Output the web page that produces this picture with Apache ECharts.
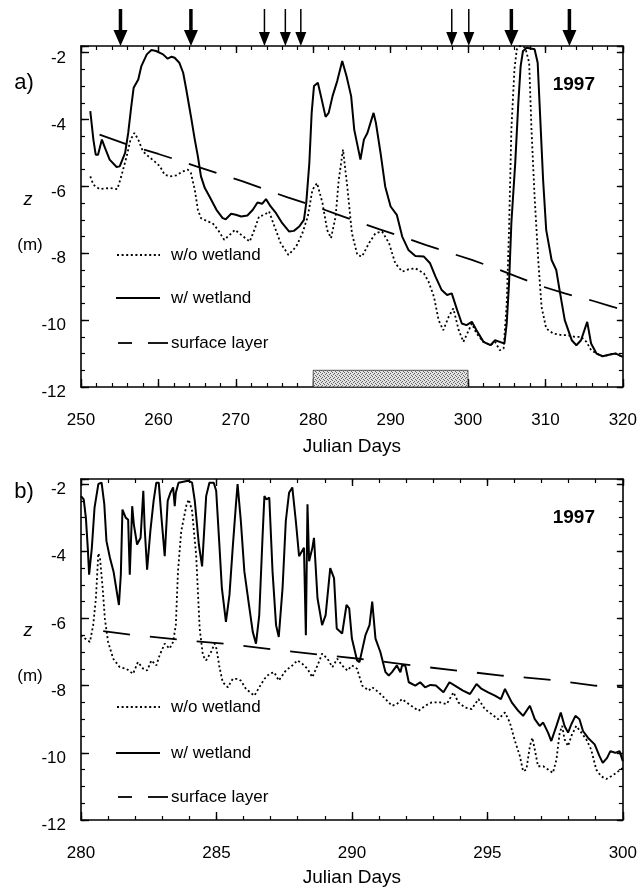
<!DOCTYPE html>
<html>
<head>
<meta charset="utf-8">
<script src="https://cdn.jsdelivr.net/npm/echarts@6/dist/echarts.min.js"></script>
<style>
html,body{margin:0;padding:0;background:#fff;}
#chart{width:640px;height:890px;}
</style>
</head>
<body>
<div id="chart"></div>
<script>
// ---------------- DATA ----------------
// Panel a) Julian days 250-320
const aWithWetland = [[251.2,-3.75],[251.6,-4.6],[251.9,-5.05],[252.2,-5.05],[252.7,-4.6],[253.1,-4.85],[253.7,-5.2],[254.6,-5.42],[255.0,-5.4],[255.7,-5.0],[256.1,-4.4],[256.5,-3.6],[256.8,-3.05],[257.4,-2.8],[257.8,-2.4],[258.5,-2.05],[259.1,-1.92],[259.7,-1.95],[260.6,-2.05],[261.2,-2.18],[261.7,-2.12],[262.1,-2.15],[262.7,-2.3],[263.2,-2.6],[263.6,-3.1],[264.2,-3.9],[264.7,-4.6],[265.1,-5.1],[265.5,-5.7],[266.0,-6.05],[266.6,-6.3],[267.5,-6.7],[268.3,-6.95],[268.7,-6.98],[269.4,-6.82],[270.0,-6.85],[270.7,-6.9],[271.5,-6.87],[272.2,-6.7],[272.8,-6.48],[273.4,-6.52],[273.9,-6.38],[274.5,-6.6],[275.2,-6.8],[276.0,-7.1],[276.9,-7.35],[277.5,-7.33],[278.2,-7.2],[278.8,-7.0],[279.1,-6.5],[279.5,-5.3],[279.8,-3.8],[280.1,-3.0],[280.6,-2.9],[281.0,-3.3],[281.6,-3.92],[282.0,-3.8],[282.5,-3.3],[283.1,-2.85],[283.75,-2.25],[284.3,-2.7],[284.9,-3.3],[285.3,-4.3],[285.7,-4.75],[286.1,-5.2],[286.55,-4.6],[287.0,-4.4],[287.4,-4.1],[287.8,-3.8],[288.1,-4.1],[288.7,-5.0],[289.3,-6.0],[290.0,-6.6],[290.8,-6.85],[291.5,-7.5],[292.3,-7.9],[293.2,-8.08],[294.3,-8.1],[295.1,-8.3],[295.8,-8.7],[296.6,-9.1],[297.3,-9.25],[297.9,-9.2],[298.6,-9.7],[299.2,-10.1],[299.8,-10.15],[300.5,-10.05],[301.1,-10.3],[302.0,-10.65],[302.9,-10.75],[303.5,-10.6],[304.1,-10.65],[304.7,-10.7],[305.0,-10.1],[305.3,-8.9],[305.6,-7.1],[306.1,-5.3],[306.5,-3.5],[306.8,-2.4],[307.1,-1.95],[307.6,-1.85],[308.6,-1.9],[309.0,-2.3],[309.3,-3.8],[309.7,-5.8],[310.1,-7.3],[310.8,-8.2],[311.4,-8.5],[311.9,-9.2],[312.5,-10.0],[313.4,-10.6],[314.0,-10.75],[314.6,-10.6],[315.4,-10.05],[315.9,-10.7],[316.6,-11.0],[317.4,-11.08],[318.5,-11.02],[319.1,-11.0],[320,-11.1]];

const aWithoutWetland = [[251.2,-5.7],[251.6,-5.95],[252.4,-6.08],[253.7,-6.05],[254.7,-6.08],[255.2,-5.7],[255.9,-5.1],[256.4,-4.6],[256.9,-4.4],[257.4,-4.6],[258.0,-4.95],[258.7,-5.1],[259.5,-5.25],[260.2,-5.4],[260.8,-5.65],[261.5,-5.7],[262.3,-5.67],[263.2,-5.55],[263.8,-5.5],[264.2,-5.6],[264.7,-6.1],[265.1,-6.7],[265.5,-6.95],[266.4,-7.05],[267.0,-7.1],[267.7,-7.3],[268.5,-7.6],[269.2,-7.45],[269.9,-7.3],[270.7,-7.45],[271.8,-7.65],[272.4,-7.3],[273.0,-6.9],[273.7,-6.85],[274.3,-6.75],[275.0,-7.2],[275.8,-7.7],[276.8,-8.05],[277.8,-7.8],[278.6,-7.4],[279.3,-6.9],[279.9,-6.1],[280.5,-5.9],[281.2,-6.5],[281.8,-7.3],[282.3,-7.55],[282.9,-6.9],[283.3,-5.8],[283.85,-4.9],[284.4,-6.0],[285.0,-7.4],[285.7,-8.05],[286.3,-8.1],[287.2,-7.7],[288.05,-7.4],[288.9,-7.35],[289.8,-7.7],[290.6,-8.3],[291.5,-8.55],[292.3,-8.48],[293.2,-8.45],[294.3,-8.6],[294.9,-8.85],[295.6,-9.3],[296.2,-10.0],[296.8,-10.3],[297.5,-9.9],[298.1,-9.65],[298.8,-10.3],[299.4,-10.65],[300.1,-10.3],[300.5,-10.1],[301.1,-10.4],[302.0,-10.65],[302.9,-10.75],[303.5,-10.65],[304.1,-10.9],[304.6,-10.85],[305.0,-9.5],[305.3,-7.3],[305.6,-4.3],[306.0,-2.5],[306.3,-1.9],[306.7,-1.8],[307.4,-1.85],[307.9,-2.3],[308.2,-4.3],[308.6,-6.3],[309.1,-8.3],[309.5,-9.6],[310.1,-10.25],[311.0,-10.4],[312.1,-10.45],[312.9,-10.45],[313.8,-10.5],[314.6,-10.5],[315.3,-10.65],[315.9,-10.9],[316.6,-11.0],[317.4,-11.08],[318.5,-11.02],[319.1,-11.0],[320,-11.1]];

const aSurfaceLayer = [[252.4,-4.45],[256.0,-4.75],[260.0,-5.03],[262.3,-5.2],[264.9,-5.4],[268.5,-5.67],[270.9,-5.85],[274.5,-6.15],[276.7,-6.33],[280.3,-6.6],[283.0,-6.83],[286.1,-7.08],[288.5,-7.28],[292.1,-7.55],[294.5,-7.75],[298.1,-8.02],[300.5,-8.2],[303.9,-8.48],[306.3,-8.7],[309.7,-9.0],[312.5,-9.2],[316.1,-9.42],[318.7,-9.6],[320,-9.7]];

const thickArrowDays = [255.1, 264.2, 305.6, 313.1];
const thinArrowDays = [273.7, 276.4, 278.4, 297.9, 300.1];
const shadedDays = [280, 300];
const shadedDepth = [-12, -11.5];

// Panel b) Julian days 280-300
const bWithWetland = [[280.0,-2.36],[280.1,-2.46],[280.18,-3.0],[280.25,-3.9],[280.3,-4.7],[280.4,-3.9],[280.5,-2.7],[280.64,-2.0],[280.76,-1.96],[280.86,-2.6],[280.94,-3.7],[281.07,-4.2],[281.2,-4.6],[281.4,-5.6],[281.47,-4.7],[281.53,-2.76],[281.65,-3.0],[281.74,-3.06],[281.8,-4.7],[281.89,-2.66],[281.95,-3.2],[282.07,-3.8],[282.2,-3.6],[282.3,-2.2],[282.35,-3.3],[282.44,-4.55],[282.56,-3.4],[282.68,-2.5],[282.78,-1.96],[282.87,-1.96],[282.97,-3.0],[283.09,-4.15],[283.2,-2.5],[283.3,-2.26],[283.4,-2.1],[283.46,-2.66],[283.5,-2.26],[283.6,-1.96],[283.95,-1.9],[284.1,-1.96],[284.2,-2.5],[284.35,-3.8],[284.47,-4.45],[284.56,-3.2],[284.62,-2.36],[284.74,-1.96],[284.9,-1.96],[284.99,-2.2],[285.1,-3.7],[285.2,-5.1],[285.35,-6.1],[285.48,-5.3],[285.6,-3.9],[285.72,-2.6],[285.78,-2.0],[285.9,-3.1],[286.03,-4.6],[286.2,-5.6],[286.34,-6.4],[286.46,-6.75],[286.58,-5.9],[286.7,-3.6],[286.77,-2.36],[286.85,-2.46],[286.95,-2.4],[287.07,-4.6],[287.2,-6.2],[287.3,-6.55],[287.44,-5.1],[287.56,-3.1],[287.68,-2.26],[287.8,-2.1],[287.93,-3.1],[288.05,-4.15],[288.23,-3.9],[288.3,-6.5],[288.36,-2.6],[288.42,-4.3],[288.54,-3.9],[288.6,-3.6],[288.73,-5.4],[288.9,-6.2],[289.03,-5.9],[289.2,-4.5],[289.34,-4.8],[289.44,-6.3],[289.64,-6.45],[289.8,-5.6],[289.9,-5.7],[290.0,-6.6],[290.19,-7.25],[290.28,-7.3],[290.5,-6.5],[290.65,-6.2],[290.75,-5.5],[290.87,-6.6],[291.05,-7.0],[291.24,-7.6],[291.36,-7.7],[291.48,-7.6],[291.66,-7.4],[291.79,-7.6],[291.85,-7.4],[291.97,-7.4],[292.1,-7.9],[292.34,-8.0],[292.52,-7.9],[292.7,-8.05],[292.9,-7.98],[293.1,-8.0],[293.38,-8.2],[293.6,-7.9],[293.8,-8.0],[294.1,-8.15],[294.36,-8.25],[294.6,-7.95],[294.79,-8.1],[295.03,-8.2],[295.28,-8.3],[295.5,-8.4],[295.65,-8.1],[295.9,-8.5],[296.14,-8.75],[296.32,-8.9],[296.57,-8.6],[296.75,-9.0],[296.93,-9.2],[297.06,-9.1],[297.24,-9.4],[297.36,-9.65],[297.55,-9.2],[297.71,-8.8],[297.85,-9.2],[297.98,-9.4],[298.1,-9.15],[298.25,-8.9],[298.4,-9.0],[298.53,-9.35],[298.71,-9.55],[298.96,-9.75],[299.14,-10.1],[299.26,-10.3],[299.42,-10.15],[299.54,-9.95],[299.72,-10.0],[299.88,-9.95],[300,-10.25]];

const bWithoutWetland = [[280.0,-6.5],[280.15,-6.6],[280.33,-6.7],[280.45,-6.2],[280.55,-5.4],[280.64,-4.06],[280.7,-4.2],[280.8,-5.1],[280.88,-6.0],[281.0,-6.7],[281.19,-7.2],[281.43,-7.45],[281.68,-7.5],[281.92,-7.65],[282.1,-7.3],[282.3,-7.5],[282.44,-7.55],[282.6,-7.25],[282.78,-7.4],[282.9,-7.1],[283.09,-6.75],[283.27,-6.9],[283.4,-6.7],[283.5,-6.2],[283.58,-4.6],[283.7,-3.4],[283.9,-2.6],[283.98,-2.46],[284.1,-2.8],[284.25,-4.1],[284.38,-6.3],[284.5,-7.1],[284.62,-7.25],[284.8,-7.0],[284.93,-6.75],[285.0,-6.9],[285.1,-7.4],[285.23,-7.9],[285.42,-8.05],[285.6,-7.8],[285.78,-7.8],[285.9,-7.85],[286.09,-8.1],[286.4,-8.3],[286.58,-8.05],[286.77,-7.8],[286.95,-7.65],[287.13,-7.6],[287.3,-7.85],[287.56,-7.55],[287.8,-7.4],[287.99,-7.25],[288.17,-7.35],[288.36,-7.5],[288.54,-7.75],[288.73,-7.4],[288.9,-7.05],[289.1,-7.2],[289.28,-7.45],[289.46,-7.2],[289.64,-7.4],[289.83,-7.55],[290.0,-7.4],[290.19,-7.5],[290.38,-8.0],[290.62,-8.15],[290.75,-8.05],[290.99,-8.2],[291.24,-8.4],[291.48,-8.6],[291.66,-8.55],[291.85,-8.4],[292.1,-8.55],[292.46,-8.75],[292.7,-8.6],[292.95,-8.5],[293.26,-8.5],[293.5,-8.55],[293.75,-8.2],[293.93,-8.5],[294.18,-8.65],[294.42,-8.7],[294.67,-8.4],[294.91,-8.7],[295.16,-8.85],[295.4,-9.0],[295.65,-8.8],[295.83,-9.1],[296.0,-9.6],[296.2,-10.1],[296.32,-10.55],[296.44,-10.5],[296.57,-9.8],[296.66,-9.55],[296.75,-9.9],[296.87,-10.4],[297.06,-10.4],[297.24,-10.5],[297.42,-10.6],[297.55,-10.2],[297.67,-9.4],[297.76,-9.2],[297.85,-9.6],[297.98,-9.8],[298.1,-9.5],[298.28,-9.2],[298.47,-9.4],[298.65,-9.6],[298.83,-9.9],[299.02,-10.5],[299.2,-10.7],[299.39,-10.78],[299.57,-10.7],[299.75,-10.6],[300,-10.45]];

const bSurfaceLayer = [[280.82,-6.38],[282.0,-6.5],[283.58,-6.63],[285.36,-6.76],[287.07,-6.92],[288.73,-7.07],[290.26,-7.2],[291.5,-7.32],[292.77,-7.45],[294.2,-7.58],[295.52,-7.7],[297.24,-7.82],[298.96,-8.0],[300,-8.05]];

const legendLabels = ['w/o wetland', 'w/ wetland', 'surface layer'];
const yearLabel = '1997';

// ---------------- STYLE / LAYOUT ----------------
const FONT = '"Liberation Sans", Arial, Helvetica, sans-serif';
const BLACK = '#000';
const A = {xMin:250, xMax:320, xMajor:10, xMinor:2, yMin:-12, yMax:-1.8};
const B = {xMin:280, xMax:300, xMajor:5, xMinor:1, yMin:-12, yMax:-1.85};
const grids = [
  {left:81, top:46, width:544, height:341},
  {left:81, top:479, width:544, height:341}
];

function xAxes(g, P, nameGap) {
  const base = {gridIndex:g, type:'value', min:P.xMin, max:P.xMax, splitLine:{show:false}};
  const line = {show:true, onZero:false, lineStyle:{color:BLACK, width:1.6}};
  return [
    Object.assign({}, base, {position:'bottom', interval:P.xMajor, axisLine:line,
      axisTick:{show:true, inside:true, length:8, lineStyle:{color:BLACK, width:1.4}},
      axisLabel:{show:true, margin:25, color:BLACK, fontSize:17, fontFamily:FONT},
      name:'Julian Days', nameLocation:'middle', nameGap:nameGap,
      nameTextStyle:{color:BLACK, fontSize:19, fontFamily:FONT}}),
    Object.assign({}, base, {position:'bottom', interval:P.xMinor, axisLine:{show:false, onZero:false},
      axisTick:{show:true, inside:true, length:4, lineStyle:{color:BLACK, width:1.2}}, axisLabel:{show:false}}),
    Object.assign({}, base, {position:'top', interval:P.xMajor, axisLine:line,
      axisTick:{show:true, inside:true, length:7, lineStyle:{color:BLACK, width:1.4}}, axisLabel:{show:false}}),
    Object.assign({}, base, {position:'top', interval:P.xMinor, axisLine:{show:false, onZero:false},
      axisTick:{show:true, inside:true, length:4, lineStyle:{color:BLACK, width:1.2}}, axisLabel:{show:false}})
  ];
}
function yAxes(g, P) {
  const base = {gridIndex:g, type:'value', min:P.yMin, max:P.yMax, splitLine:{show:false}};
  const line = {show:true, onZero:false, lineStyle:{color:BLACK, width:1.6}};
  return [
    Object.assign({}, base, {position:'left', interval:2, axisLine:line,
      axisTick:{show:true, inside:true, length:8, lineStyle:{color:BLACK, width:1.4}},
      axisLabel:{show:true, margin:15, color:BLACK, fontSize:17, fontFamily:FONT,
        verticalAlign:'top', lineHeight:11,
        formatter: v => (Math.abs(v % 2) < 1e-9 ? String(v) : '')}}),
    Object.assign({}, base, {position:'left', interval:0.5, axisLine:{show:false, onZero:false},
      axisTick:{show:true, inside:true, length:4, lineStyle:{color:BLACK, width:1.2}}, axisLabel:{show:false}}),
    Object.assign({}, base, {position:'right', interval:2, axisLine:line,
      axisTick:{show:true, inside:true, length:6, lineStyle:{color:BLACK, width:1.4}}, axisLabel:{show:false}}),
    Object.assign({}, base, {position:'right', interval:0.5, axisLine:{show:false, onZero:false},
      axisTick:{show:true, inside:true, length:4, lineStyle:{color:BLACK, width:1.2}}, axisLabel:{show:false}})
  ];
}

// stipple pattern for the shaded bar
const pat = document.createElement('canvas');
pat.width = 4; pat.height = 4;
(function(){
  const c = pat.getContext('2d');
  c.fillStyle = '#e2e2e2'; c.fillRect(0,0,4,4);
  c.fillStyle = '#666';
  [[0,0],[2,1],[1,2],[3,3]].forEach(p => c.fillRect(p[0],p[1],1,1));
})();

const solidStyle = {color:BLACK, width:2};
const dottedStyle = {color:BLACK, width:1.8, type:[2,2.6]};

function lineSeries(name, data, xi, yi, style, extra) {
  return Object.assign({
    name, type:'line', data, xAxisIndex:xi, yAxisIndex:yi,
    symbol:'none', showSymbol:false, smooth:false, lineStyle:style, silent:true, z:3
  }, extra || {});
}

const arrowData = thickArrowDays.map(d => [d, A.yMax, 1]).concat(thinArrowDays.map(d => [d, A.yMax, 0]));

const series = [
  lineSeries('w/ wetland a', aWithWetland, 0, 0, solidStyle, {
    markArea:{silent:true, itemStyle:{color:{image:pat, repeat:'repeat'}, borderColor:'#333', borderWidth:0.8},
      data:[[{coord:[shadedDays[0], shadedDepth[0]]},{coord:[shadedDays[1], shadedDepth[1]]}]]}
  }),
  lineSeries('w/o wetland a', aWithoutWetland, 0, 0, dottedStyle),
  lineSeries('surface layer a', aSurfaceLayer, 0, 0, {color:BLACK, width:1.8, type:[29,18]}),
  {
    type:'custom', xAxisIndex:0, yAxisIndex:0, clip:false, silent:true, z:5,
    data: arrowData,
    renderItem: function(params, api) {
      const p = api.coord([api.value(0), api.value(1)]);
      const thick = api.value(2) === 1;
      const hw = thick ? 7 : 5.5, hh = thick ? 16 : 14, sw = thick ? 3.5 : 1.5;
      return {type:'group', children:[
        {type:'line', shape:{x1:p[0], y1:p[1]-37, x2:p[0], y2:p[1]-hh+1}, style:{stroke:BLACK, lineWidth:sw}},
        {type:'polygon', shape:{points:[[p[0]-hw, p[1]-hh],[p[0]+hw, p[1]-hh],[p[0], p[1]]]}, style:{fill:BLACK}}
      ]};
    }
  },
  lineSeries('w/ wetland b', bWithWetland, 4, 4, solidStyle),
  lineSeries('w/o wetland b', bWithoutWetland, 4, 4, dottedStyle),
  lineSeries('surface layer b', bSurfaceLayer, 4, 4, {color:BLACK, width:1.8, type:[27,20]})
];

function legendGraphics(y0, y1, y2) {
  const tx = 171, font = '17px ' + FONT;
  return [
    {type:'line', shape:{x1:117, y1:y0, x2:160, y2:y0}, style:{stroke:BLACK, lineWidth:1.8, lineDash:[2,2.6]}},
    {type:'text', style:{x:tx, y:y0, text:legendLabels[0], font, fill:BLACK, textVerticalAlign:'middle'}},
    {type:'line', shape:{x1:116, y1:y1, x2:160, y2:y1}, style:{stroke:BLACK, lineWidth:2}},
    {type:'text', style:{x:tx, y:y1, text:legendLabels[1], font, fill:BLACK, textVerticalAlign:'middle'}},
    {type:'line', shape:{x1:118, y1:y2, x2:132, y2:y2}, style:{stroke:BLACK, lineWidth:1.8}},
    {type:'line', shape:{x1:148, y1:y2, x2:168, y2:y2}, style:{stroke:BLACK, lineWidth:1.8}},
    {type:'text', style:{x:tx, y:y2, text:legendLabels[2], font, fill:BLACK, textVerticalAlign:'middle'}}
  ];
}
function txt(x, y, text, font, align) {
  return {type:'text', style:{x, y, text, font, fill:BLACK, textAlign:align || 'center', textVerticalAlign:'middle'}};
}

const graphic = [].concat(
  legendGraphics(255, 298, 343),
  legendGraphics(707, 753, 797),
  [
    txt(24, 83, 'a)', '22px ' + FONT),
    txt(24, 492, 'b)', '22px ' + FONT),
    txt(28, 200, 'z', 'italic 18px ' + FONT),
    txt(30, 245, '(m)', '17px ' + FONT),
    txt(28, 631, 'z', 'italic 18px ' + FONT),
    txt(30, 676, '(m)', '17px ' + FONT),
    txt(595, 85, yearLabel, 'bold 19px ' + FONT, 'right'),
    txt(595, 518, yearLabel, 'bold 19px ' + FONT, 'right')
  ]
);

const chart = echarts.init(document.getElementById('chart'), null, {renderer:'canvas'});
chart.setOption({
  backgroundColor:'#fff',
  animation:false,
  grid: grids,
  xAxis: xAxes(0, A, 50).concat(xAxes(1, B, 48)),
  yAxis: yAxes(0, A).concat(yAxes(1, B)),
  series,
  graphic
});
</script>
</body>
</html>
